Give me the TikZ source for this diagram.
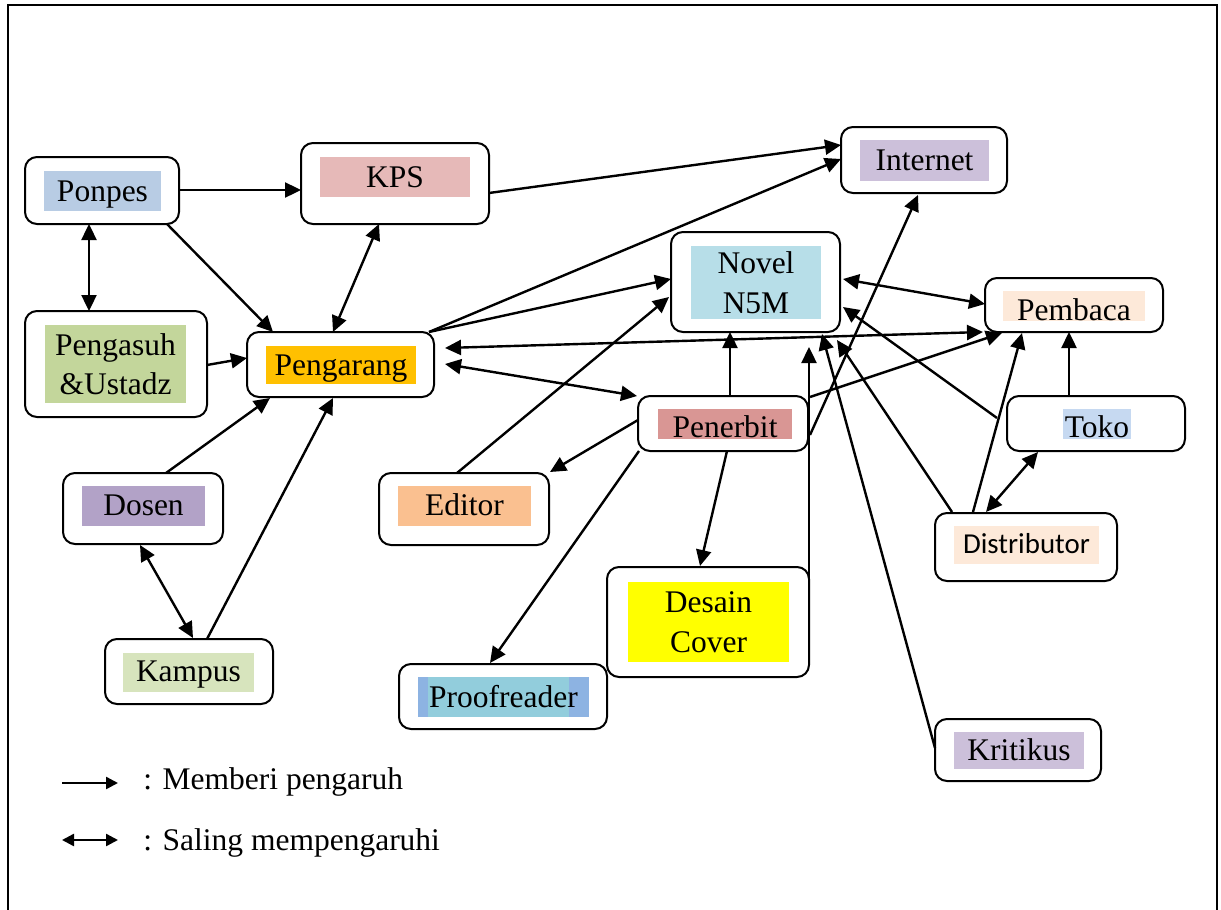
\documentclass[tikz,border=0pt]{standalone}
\usepackage{fontspec}
\setmainfont{Liberation Serif}
\newfontfamily\calibrifont{Carlito}
\usetikzlibrary{arrows.meta,calc,fit}
\newcommand\labfont{\fontsize{15.75}{19.75}\selectfont}
\newcommand\labfontsans{\calibrifont\fontsize{14.44}{18}\selectfont}
\definecolor{cPonpes}{HTML}{B8CCE4}
\definecolor{cKPS}{HTML}{E6B9B8}
\definecolor{cPengasuh}{HTML}{C3D69B}
\definecolor{cPengarang}{HTML}{FFC000}
\definecolor{cInternet}{HTML}{CCC0DA}
\definecolor{cNovel}{HTML}{B7DEE8}
\definecolor{cPembaca}{HTML}{FDE9D9}
\definecolor{cPenerbit}{HTML}{D99694}
\definecolor{cEditor}{HTML}{FAC090}
\definecolor{cDesain}{HTML}{FFFF00}
\definecolor{cProofA}{HTML}{8DB3E2}
\definecolor{cProofB}{HTML}{92CDDC}
\definecolor{cToko}{HTML}{C6D9F1}
\definecolor{cKritikus}{HTML}{CCC0DA}
\definecolor{cDosen}{HTML}{B2A2C7}
\definecolor{cKampus}{HTML}{D7E4BD}
\begin{document}
\begin{tikzpicture}[x=0.5pt,y=-0.5pt,
  box/.style={draw, fill=white, line width=1pt, rounded corners=6pt, inner sep=0pt, outer sep=0pt},
  lab/.style={inner sep=0pt, outer sep=0pt, anchor=base, font=\labfont},
  labtwo/.style={inner sep=0pt, outer sep=0pt, align=center, font=\labfont},
  conn/.style={line width=1.2pt, -{Triangle[length=8pt,width=7.5pt]}},
  both/.style={line width=1.2pt, {Triangle[length=8pt,width=7.5pt]}-{Triangle[length=8pt,width=7.5pt]}},
  legone/.style={line width=1.2pt, -{Triangle[length=6pt,width=6pt]}},
  legtwo/.style={line width=1.2pt, {Triangle[length=6pt,width=6pt]}-{Triangle[length=6pt,width=6pt]}}
]
\useasboundingbox (0,0) rectangle (1221,910);
\fill[white] (0,0) rectangle (1221,910);
\draw[line width=1.1pt] (8,910) -- (8,5) -- (1217,5) -- (1217,910);

% boxes
\node[box, fit={(25,157) (179,224)}] (ponpes) {};
\node[box, fit={(301,143) (489,224)}] (kps) {};
\node[box, fit={(25,311) (207,417)}] (pengasuh) {};
\node[box, fit={(247,332) (434,397)}] (pengarang) {};
\node[box, fit={(841,127) (1007,193)}] (internet) {};
\node[box, fit={(671,232) (840,332)}] (novel) {};
\node[box, fit={(985,278) (1163,332)}] (pembaca) {};
\node[box, fit={(638,396) (808,451)}] (penerbit) {};
\node[box, fit={(379,473) (549,545)}] (editor) {};
\node[box, fit={(607,567) (809,677)}] (desain) {};
\node[box, fit={(399,664) (607,729)}] (proof) {};
\node[box, fit={(1007,396) (1185,451)}] (toko) {};
\node[box, fit={(935,513) (1117,581)}] (distr) {};
\node[box, fit={(935,719) (1101,781)}] (kritikus) {};
\node[box, fit={(63,473) (223,544)}] (dosen) {};
\node[box, fit={(105,639) (273,704)}] (kampus) {};

% labels
\node[lab, fill=cPonpes, minimum width=58.5pt, text height=15pt, text depth=5pt] (ponpesL) at (102.5,201) {Ponpes};
\node[lab, fill=cKPS, minimum width=75pt, text height=15pt, text depth=5pt] (kpsL) at (395,187) {KPS};
\node[lab, fill=cPengarang, minimum width=75pt, text height=14.5pt, text depth=4.5pt] (pengarangL) at (341,375) {Pengarang};
\node[lab, fill=cInternet, minimum width=64.5pt, text height=15pt, text depth=5.5pt] (internetL) at (924.5,170) {Internet};
\node[lab, fill=cPembaca, minimum width=71pt, text height=14.5pt, text depth=0.5pt] (pembacaL) at (1074,320) {Pembaca};
\node[lab, fill=cPenerbit, minimum width=67pt, text height=14pt, text depth=1pt] (penerbitL) at (725,437) {Penerbit};
\node[lab, fill=cEditor, minimum width=66.5pt, text height=14.5pt, text depth=5.5pt] (editorL) at (464.5,515) {Editor};
\node[lab, fill=cProofA, minimum width=85.5pt, text height=15pt, text depth=5pt,
  path picture={\fill[cProofB] ([xshift=5pt]path picture bounding box.south west) rectangle ([xshift=-10pt]path picture bounding box.north east);}] (proofL) at (503.5,707) {Proofreader};
\node[lab, fill=cToko, minimum width=34pt, text height=14pt, text depth=1pt] (tokoL) at (1097,437) {Toko};
\node[lab, font=\labfontsans, fill=cPembaca, minimum width=72.5pt, text height=13.5pt, text depth=5.5pt] (distrL) at (1026.5,553) {Distributor};
\node[lab, fill=cKritikus, minimum width=65pt, text height=14pt, text depth=4.5pt] (kritikusL) at (1019,760) {Kritikus};
\node[lab, fill=cDosen, minimum width=61.5pt, text height=14.5pt, text depth=5.5pt] (dosenL) at (143.5,515) {Dosen};
\node[lab, fill=cKampus, minimum width=65.5pt, text height=14pt, text depth=5.5pt] (kampusL) at (188.5,681) {Kampus};
\node[labtwo, fill=cPengasuh, minimum width=70.5pt, minimum height=39pt] (pengasuhL) at (115.5,364) {Pengasuh\\\&Ustadz};
\node[labtwo, fill=cNovel, minimum width=65pt, minimum height=36.5pt] (novelL) at (756,282.5) {Novel\\N5M};
\node[labtwo, fill=cDesain, minimum width=80.5pt, minimum height=40pt] (desainL) at (708.5,622) {Desain\\Cover};

% connectors
\draw[conn] ($(ponpes.north west)+(154,33)$) -- ($(kps.north west)+(0,47)$);
\draw[both] ($(ponpes.north west)+(64,67)$) -- ($(pengasuh.north west)+(64,0)$);
\draw[conn] ($(ponpes.north west)+(142,67)$) -- ($(pengarang.north west)+(26,0)$);
\draw[both] ($(kps.north west)+(78,81)$) -- ($(pengarang.north west)+(86,0)$);
\draw[conn] ($(pengasuh.north west)+(182,54)$) -- ($(pengarang.north west)+(0,26)$);
\draw[conn] ($(kps.north west)+(188,50)$) -- ($(internet.north west)+(0,18)$);
\draw[conn] ($(pengarang.north west)+(182,0)$) -- ($(internet.north west)+(0,32)$);
\draw[conn] ($(pengarang.north west)+(182,0)$) -- ($(novel.north west)+(0,47)$);
\draw[both] ($(pengarang.north west)+(198,16)$) -- ($(pembaca.north west)+(-2,54)$);
\draw[both] ($(pengarang.north west)+(198,32)$) -- ($(penerbit.north west)+(-1,0)$);
\draw[conn] ($(penerbit.north west)+(92,0)$) -- ($(novel.north west)+(59,100)$);
\draw[conn] ($(editor.north west)+(78,0)$) -- ($(novel.north west)+(-2,65)$);
\draw[conn] ($(penerbit.north west)+(0,24)$) -- ($(editor.north west)+(171,-1)$);
\draw[conn] ($(penerbit.north west)+(1,55)$) -- ($(proof.north west)+(91,-1)$);
\draw[conn] ($(penerbit.north west)+(89,55)$) -- ($(desain.north west)+(93,-1)$);
\draw[conn] ($(desain.north west)+(202,13)$) -- ($(novel.north west)+(138,115)$);
\draw[conn] ($(penerbit.north west)+(172,1)$) -- ($(pembaca.north west)+(17,55)$);
\draw[conn] ($(penerbit.north west)+(172,39)$) -- ($(internet.north west)+(77,68)$);
\draw[both] ($(novel.north west)+(172,47)$) -- ($(pembaca.north west)+(0,26)$);
\draw[conn] ($(toko.north west)+(-10,22)$) -- ($(novel.north west)+(172,75)$);
\draw[conn] ($(toko.north west)+(62,0)$) -- ($(pembaca.north west)+(84,54)$);
\draw[conn] ($(distr.north west)+(17,-1)$) -- ($(novel.north west)+(166,108)$);
\draw[conn] ($(distr.north west)+(38,-1)$) -- ($(pembaca.north west)+(37,55)$);
\draw[both] ($(distr.north west)+(51,-1)$) -- ($(toko.north west)+(31,56)$);
\draw[conn] ($(kritikus.north west)+(0,29)$) -- ($(novel.north west)+(151,102)$);
\draw[conn] ($(dosen.north west)+(103,0)$) -- ($(pengarang.north west)+(23,66)$);
\draw[conn] ($(kampus.north west)+(102,0)$) -- ($(pengarang.north west)+(86,66)$);
\draw[both] ($(dosen.north west)+(77,72)$) -- ($(kampus.north west)+(88,-1)$);

% legend
\coordinate (la1) at (62,783);
\coordinate (la2) at (118,783);
\coordinate (lb1) at (62,840);
\coordinate (lb2) at (118,840);
\draw[legone] (la1) -- (la2);
\draw[legtwo] (lb1) -- (lb2);
\node[anchor=base west, inner sep=0pt, font=\labfont] (legA) at (143,789) {: Memberi pengaruh};
\node[anchor=base west, inner sep=0pt, font=\labfont] (legB) at (143,850) {: Saling mempengaruhi};
\end{tikzpicture}
\end{document}
